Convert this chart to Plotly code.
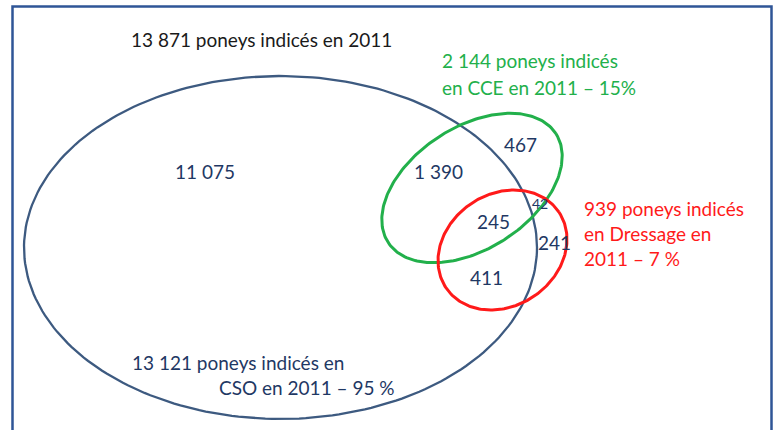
import plotly.graph_objects as go
import numpy as np

# Venn counts (ponies indexed in 2011)
TOTAL = 13871
SET_NAMES = ["CSO", "CCE", "Dressage"]
SET_TOTALS = [13121, 2144, 939]
SET_PCTS = [95, 15, 7]

REGION_NAMES = ["CSO seul", "CSO+CCE", "CCE seul", "CSO+CCE+Dressage",
                "CCE+Dressage", "Dressage seul", "CSO+Dressage"]
REGION_COUNTS = [11075, 1390, 467, 245, 42, 241, 411]

FONT = "Lato, Calibri, sans-serif"
BLUE = "#3D5A80"
GREEN = "#22B04B"
RED = "#FF1A1A"
NAVY = "#1F3864"


def fr(n):
    # French thousands separator
    return f"{n:,}".replace(",", " ")


def ellipse(cx, cy, a, b, angle_deg):
    t = np.linspace(0, 2 * np.pi, 240)
    th = np.radians(angle_deg)
    x = cx + a * np.cos(t) * np.cos(th) - b * np.sin(t) * np.sin(th)
    # screen y goes down
    y = cy - (a * np.cos(t) * np.sin(th) + b * np.sin(t) * np.cos(th))
    return x, y


fig = go.Figure()

shapes_geom = [
    (280.5, 247.5, 256.5, 171.5, 0, BLUE, 2.3),
    (472, 188, 100, 61, 33, GREEN, 3),
    (502.5, 250, 68, 56, 34, RED, 3),
]
for cx, cy, a, b, ang, col, w in shapes_geom:
    x, y = ellipse(cx, cy, a, b, ang)
    fig.add_trace(go.Scatter(x=x, y=y, mode="lines", line=dict(color=col, width=w),
                             hoverinfo="skip", showlegend=False))

# region counts
region_pos = [(205, 171, 19), (438, 171, 19), (520, 144, 19), (493, 221, 19),
              (540, 203, 14), (554, 242, 19), (486, 277, 19)]
for (x, y, s), n in zip(region_pos, REGION_COUNTS):
    fig.add_annotation(x=x, y=y, text=fr(n), showarrow=False, xanchor="center", yanchor="middle",
                       font=dict(family=FONT, size=s, color=NAVY))

# set labels
fig.add_annotation(x=129, y=39, text=f"{fr(TOTAL)} poneys indicés en 2011", showarrow=False,
                   xanchor="left", yanchor="middle", font=dict(family=FONT, size=19, color="#1A1A1A"))
fig.add_annotation(x=130, y=362, text=f"{fr(SET_TOTALS[0])} poneys indicés en", showarrow=False,
                   xanchor="left", yanchor="middle", font=dict(family=FONT, size=19, color=NAVY))
fig.add_annotation(x=217, y=387, text=f"{SET_NAMES[0]} en 2011 – {SET_PCTS[0]} %", showarrow=False,
                   xanchor="left", yanchor="middle", font=dict(family=FONT, size=19, color=NAVY))
fig.add_annotation(x=440, y=60, text=f"{fr(SET_TOTALS[1])} poneys indicés", showarrow=False,
                   xanchor="left", yanchor="middle", font=dict(family=FONT, size=19, color=GREEN))
fig.add_annotation(x=440, y=87, text=f"en {SET_NAMES[1]} en 2011 – {SET_PCTS[1]}%", showarrow=False,
                   xanchor="left", yanchor="middle", font=dict(family=FONT, size=19, color=GREEN))
red_lines = [f"{fr(SET_TOTALS[2])} poneys indicés", f"en {SET_NAMES[2]} en", f"2011 – {SET_PCTS[2]} %"]
for i, line in enumerate(red_lines):
    fig.add_annotation(x=582, y=208 + 25 * i, text=line, showarrow=False,
                       xanchor="left", yanchor="middle", font=dict(family=FONT, size=19, color=RED))

# frame, open at the bottom
fig.add_shape(type="rect", x0=12.5, y0=6.5, x1=771.5, y1=445,
              line=dict(color="#2F5597", width=2.5))

fig.update_layout(
    width=778, height=430,
    margin=dict(l=0, r=0, t=0, b=0),
    paper_bgcolor="white", plot_bgcolor="white",
    xaxis=dict(range=[0, 778], visible=False, fixedrange=True),
    yaxis=dict(range=[430, 0], visible=False, fixedrange=True),
    showlegend=False,
)
# drop the default body margin so the figure sits at the page origin
fig.write_html("out.html", config={"displayModeBar": False},
               post_script="document.body.style.margin='0';document.body.style.overflow='hidden';")
